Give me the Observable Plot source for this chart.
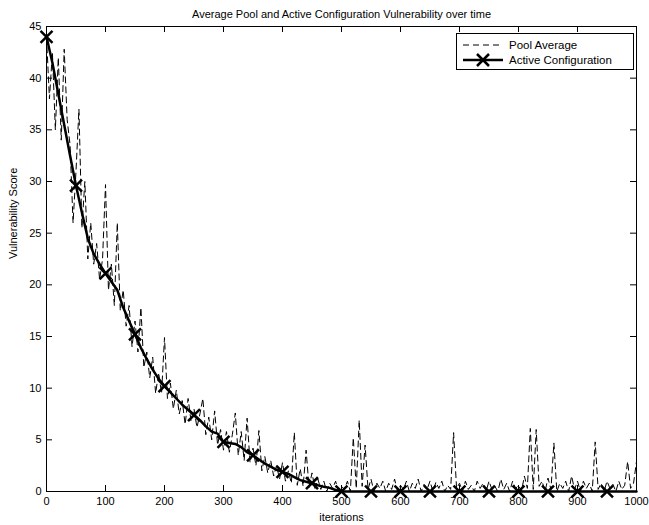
<!DOCTYPE html>
<html>
<head>
<meta charset="utf-8">
<script src="https://cdn.jsdelivr.net/npm/d3@7"></script>
<script src="https://cdn.jsdelivr.net/npm/@observablehq/plot@0.6"></script>
<style>
  html, body { margin: 0; padding: 0; background: white; }
  #wrap { position: relative; width: 649px; height: 525px; font-family: "Liberation Sans", Arial, sans-serif; }
  #legend { position: absolute; left: 456px; top: 33px; width: 176px; height: 35px; border: 1px solid black; background: white; font-size: 11.5px; }
  #legend .row { position: absolute; left: 0; height: 14px; display: flex; align-items: center; }
  #legend svg { display: block; }
  #legend span { margin-left: 4px; white-space: nowrap; }
</style>
</head>
<body>
<div id="wrap">
  <div id="chart"></div>
  <div id="legend"></div>
</div>
<script>
const titleText = "Average Pool and Active Configuration Vulnerability over time";
const xLabel = "iterations";
const yLabel = "Vulnerability Score";
const seriesNames = ["Pool Average", "Active Configuration"];
const xTicks = [0, 100, 200, 300, 400, 500, 600, 700, 800, 900, 1000];
const yTicks = [0, 5, 10, 15, 20, 25, 30, 35, 40, 45];

// Pool average, sampled every 5 iterations (0..1000)
const poolStep = 5;
const poolValues = [
  44, 38, 42.5, 35, 42, 34, 42.8, 36, 33.5, 26,
  31, 37, 25.5, 30, 22.5, 26, 22, 24, 20.5, 22.5,
  29.7, 19.5, 22, 18, 26, 17.5, 19.5, 16, 18, 14,
  16.5, 13.5, 17.8, 12, 13.5, 11, 13, 9.5, 11.5, 9.5,
  14.9, 9, 10.5, 8, 9.8, 7.5, 8.8, 6.5, 9, 6.8,
  8, 6.2, 7.5, 9, 5.5, 7.2, 5, 7.8, 4.5, 6,
  4, 5.8, 3.8, 5.5, 7.6, 3.5, 5.8, 3, 7.1, 2.8,
  4.2, 2.5, 5.9, 2, 3.4, 1.8, 3, 1.5, 2.5, 1.2,
  2.8, 1, 2, 0.8, 5.7, 0.6, 2.2, 0.5, 4, 0.4,
  1.8, 0.3, 1.2, 0.2, 1, 0, 0.8, 0.3, 1, 0,
  0.5, 0.2, 1, 0, 5.2, 0.3, 6.9, 0.5, 4.5, 0.2,
  1.2, 0, 0.8, 0.3, 1, 0, 0.8, 0.2, 1.2, 0,
  0.6, 0.2, 1, 0, 0.8, 0.3, 1.2, 0, 0.7, 0.2,
  1, 0, 0.9, 0.3, 1, 0, 0.6, 0.2, 5.7, 0.3,
  0.8, 0, 1, 0.2, 0.6, 0, 1, 0.3, 0.8, 0,
  1, 0.2, 0.5, 0, 1.2, 0.2, 0.8, 0, 1, 0.3,
  0.6, 0, 1.5, 0.3, 6.1, 0.2, 6.0, 0.5, 1, 0,
  1.3, 0.2, 4.7, 0, 0.8, 0.3, 1, 0, 1.5, 0.2,
  1, 0, 1, 0.3, 0.8, 0, 4.8, 0.2, 0.8, 0,
  1, 0.3, 0.7, 0, 1, 0.2, 0.6, 2.9, 0.3, 0.8,
  2.9
];

// Active configuration, sampled every 10 iterations (0..1000)
const activeStep = 10;
const activeValues = [
  44, 41.5, 38.5, 35.5, 32.5, 29.6, 27, 24.5, 23, 22,
  21.1, 20.3, 19.5, 17.8, 16.5, 15.2, 13.9, 12.8, 11.8, 10.9,
  10.2, 9.6, 9.0, 8.4, 7.9, 7.4, 6.9, 6.3, 5.8, 5.6,
  4.8, 4.7, 4.6, 4.3, 3.8, 3.5, 3.1, 2.7, 2.4, 2.1,
  1.9, 1.7, 1.4, 1.1, 0.95, 0.8, 0.6, 0.45, 0.35, 0.15,
  0, 0, 0, 0, 0, 0, 0, 0, 0, 0,
  0, 0, 0, 0, 0, 0, 0, 0, 0, 0,
  0, 0, 0, 0, 0, 0, 0, 0, 0, 0,
  0, 0, 0, 0, 0, 0, 0, 0, 0, 0,
  0, 0, 0, 0, 0, 0, 0, 0, 0, 0,
  0
];
const markerEvery = 50;
const markerLast = 950;

const pool = poolValues.map((v, i) => ({x: i * poolStep, y: v}));
const active = activeValues.map((v, i) => ({x: i * activeStep, y: v}));
const markers = active.filter(d => d.x % markerEvery === 0 && d.x <= markerLast);

const W = 649, H = 525;
const mL = 46, mR = 13, mT = 26, mB = 34;
const frameW = W - mL - mR, frameH = H - mT - mB;
const tickLen = 6;

const chart = Plot.plot({
  width: W, height: H,
  marginLeft: mL, marginRight: mR, marginTop: mT, marginBottom: mB,
  style: {fontFamily: "'Liberation Sans', Arial, sans-serif", fontSize: "11px", background: "white", color: "black", overflow: "visible"},
  x: {domain: [0, 1000]},
  y: {domain: [0, 45]},
  marks: [
    Plot.line(pool, {x: "x", y: "y", stroke: "black", strokeWidth: 1, strokeDasharray: "6,4"}),
    Plot.line(active, {x: "x", y: "y", stroke: "black", strokeWidth: 2.5, strokeLinejoin: "round"}),
    Plot.dot(markers, {x: "x", y: "y", symbol: "times", r: 5.5, stroke: "black", strokeWidth: 2.5}),
    Plot.tickX(xTicks, {x: d => d, stroke: "black", insetTop: frameH - tickLen}),
    Plot.tickX(xTicks, {x: d => d, stroke: "black", insetBottom: frameH - tickLen}),
    Plot.tickY(yTicks, {y: d => d, stroke: "black", insetRight: frameW - tickLen}),
    Plot.tickY(yTicks, {y: d => d, stroke: "black", insetLeft: frameW - tickLen}),
    Plot.frame({stroke: "black", strokeWidth: 1}),
    Plot.axisX(xTicks, {tickSize: 0, tickPadding: 6, label: null, fontSize: 11, tickFormat: d => String(d)}),
    Plot.axisY(yTicks, {tickSize: 0, tickPadding: 5, label: null, fontSize: 11, tickFormat: d => String(d)}),
    Plot.text([titleText], {frameAnchor: "top", dy: -16, fontSize: 11, fill: "black"}),
    Plot.text([xLabel], {frameAnchor: "bottom", dy: 29, fontSize: 11, fill: "black"}),
    Plot.text([yLabel], {frameAnchor: "left", dx: -33, rotate: -90, fontSize: 11, fill: "black"})
  ]
});
document.getElementById("chart").appendChild(chart);

// Legend
const legend = document.getElementById("legend");
seriesNames.forEach((name, i) => {
  const row = document.createElement("div");
  row.className = "row";
  row.style.top = (4 + i * 15) + "px";
  const ns = "http://www.w3.org/2000/svg";
  const svg = document.createElementNS(ns, "svg");
  svg.setAttribute("width", 48); svg.setAttribute("height", 14);
  const line = document.createElementNS(ns, "line");
  line.setAttribute("x1", 6); line.setAttribute("x2", 46);
  line.setAttribute("y1", 7); line.setAttribute("y2", 7);
  line.setAttribute("stroke", "black");
  if (i === 0) { line.setAttribute("stroke-width", 1); line.setAttribute("stroke-dasharray", "6,4"); }
  else { line.setAttribute("stroke-width", 2.5); }
  svg.appendChild(line);
  if (i === 1) {
    const p = document.createElementNS(ns, "path");
    p.setAttribute("d", "M20,1L32,13M20,13L32,1");
    p.setAttribute("stroke", "black"); p.setAttribute("stroke-width", 2.5);
    svg.appendChild(p);
  }
  row.appendChild(svg);
  const s = document.createElement("span");
  s.textContent = name;
  row.appendChild(s);
  legend.appendChild(row);
});
</script>
</body>
</html>
